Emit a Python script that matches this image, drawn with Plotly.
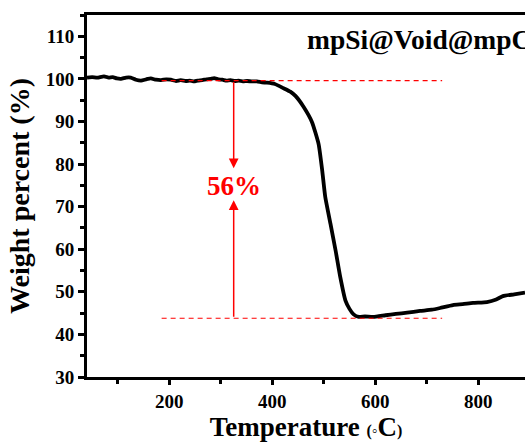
import plotly.graph_objects as go

# ---- data ----
temperature = [40, 50, 60, 73, 82, 90, 98, 106, 116, 125, 135, 145, 155, 164, 174, 184,
               194, 203, 213, 222, 232, 240, 248, 255, 264, 272, 280, 287, 295, 303, 311,
               319, 327, 335, 343, 351, 360, 370, 380, 390, 405, 422, 435, 445, 461, 477,
               490, 497, 503, 513, 523, 532, 542, 550, 558, 568, 580, 596, 620, 640, 662,
               687, 710, 726, 751, 770, 790, 817, 835, 848, 870, 891]
weight = [100.3, 100.4, 100.3, 100.6, 100.3, 100.4, 100.1, 100.0, 100.3, 100.3, 99.8,
          99.6, 99.9, 100.1, 99.8, 99.7, 99.9, 99.8, 99.5, 99.7, 99.5, 99.6, 99.4, 99.6,
          99.7, 99.9, 100.0, 100.2, 99.9, 99.8, 99.6, 99.7, 99.5, 99.6, 99.4, 99.5, 99.4,
          99.4, 99.2, 99.1, 98.8, 97.8, 97.0, 96.0, 93.4, 89.9, 84.7, 78.5, 72.2, 66.0,
          59.7, 53.5, 48.0, 46.0, 44.7, 44.1, 44.2, 44.1, 44.5, 44.8, 45.1, 45.5, 45.8,
          46.2, 46.9, 47.1, 47.4, 47.6, 48.2, 49.0, 49.4, 49.8]

ref_levels = [99.6, 43.8]          # dashed guide levels (%)
ref_span = [185, 730]              # temperature span of guide lines
arrow_x = 325                      # temperature of the double arrow
arrow_tips = [79.0, 71.5]          # arrow head positions (%)
loss_label = "56%"
label_pos = [325, 74.8]
sample_name = "mpSi@Void@mpC"

x_ticks = [200, 400, 600, 800]
y_ticks = [30, 40, 50, 60, 70, 80, 90, 100, 110]

FONT = "Liberation Serif"
RED = "#ff0000"

W, H = 525, 442
ML, MT, MB = 87, 15, 65

fig = go.Figure()
fig.add_trace(go.Scatter(x=temperature, y=weight, mode="lines",
                         line=dict(color="black", width=3.8, shape="spline", smoothing=0.5),
                         showlegend=False, hoverinfo="skip"))

for lvl in ref_levels:
    fig.add_trace(go.Scatter(x=ref_span, y=[lvl, lvl], mode="lines",
                             line=dict(color=RED, width=1.2, dash="5px,4px"),
                             showlegend=False, hoverinfo="skip"))

fig.add_annotation(x=arrow_x, y=arrow_tips[0], ax=arrow_x, ay=ref_levels[0],
                   xref="x", yref="y", axref="x", ayref="y", text="",
                   showarrow=True, arrowhead=2, arrowsize=1.3, arrowwidth=1.5,
                   arrowcolor=RED)
fig.add_annotation(x=arrow_x, y=arrow_tips[1], ax=arrow_x, ay=ref_levels[1],
                   xref="x", yref="y", axref="x", ayref="y", text="",
                   showarrow=True, arrowhead=2, arrowsize=1.3, arrowwidth=1.5,
                   arrowcolor=RED)
fig.add_annotation(x=label_pos[0], y=label_pos[1], xref="x", yref="y",
                   text="<b>%s</b>" % loss_label, showarrow=False,
                   font=dict(family=FONT, size=27, color=RED))

plot_w = W - ML
plot_h = H - MT - MB
fig.add_annotation(x=(305 - ML) / plot_w, y=(H - MB - 39) / plot_h,
                   xref="paper", yref="paper", xanchor="left", yanchor="middle",
                   text="<b>%s</b>" % sample_name, showarrow=False,
                   font=dict(family=FONT, size=27.5, color="black"))

fig.update_layout(
    width=W, height=H,
    margin=dict(l=ML, r=0, t=MT, b=MB, autoexpand=False),
    paper_bgcolor="white", plot_bgcolor="white",
    font=dict(family=FONT, color="black"),
)

fig.update_xaxes(range=[40, 891], tickvals=x_ticks, ticks="outside", ticklen=5,
                 tickwidth=2.5, tickcolor="black", showline=True, linewidth=3,
                 linecolor="black", mirror=True, showgrid=False, zeroline=False,
                 tickfont=dict(family=FONT, size=19, color="black", weight="bold"),
                 minor=dict(dtick=100, tick0=0, ticks="outside", ticklen=4,
                            tickwidth=2.5, tickcolor="black"),
                 title=dict(text="<b>Temperature <span style='font-size:16px'>(◦</span>C<span style='font-size:16px'>)</span></b>",
                            font=dict(family=FONT, size=27, color="black"),
                            standoff=5))
fig.update_yaxes(range=[30, 115], tickvals=y_ticks, ticks="outside", ticklen=6,
                 tickwidth=2.5, tickcolor="black", showline=True, linewidth=3,
                 linecolor="black", showgrid=False, zeroline=False,
                 tickfont=dict(family=FONT, size=19, color="black", weight="bold"),
                 minor=dict(dtick=5, tick0=0, ticks="outside", ticklen=4,
                            tickwidth=2.5, tickcolor="black"),
                 title=dict(text="<b>Weight percent (%)</b>",
                            font=dict(family=FONT, size=28, color="black"),
                            standoff=8))

fig.write_html("out.html", config={"displayModeBar": False},
               post_script="document.body.style.margin='0';document.body.style.overflow='hidden';")
